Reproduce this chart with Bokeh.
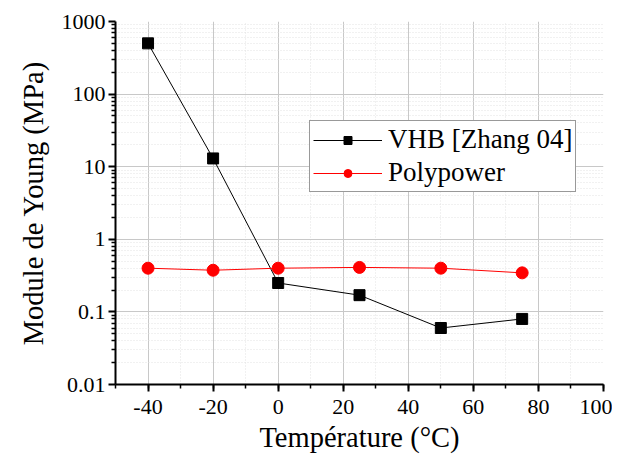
from bokeh.plotting import figure
from bokeh.models import (Range1d, FixedTicker, SingleIntervalTicker, CustomJSTickFormatter,
                          Legend, LegendItem)
from bokeh.embed import file_html
from bokeh.resources import INLINE

# ---- data ----
temps_vhb = [-40, -20, 0, 25, 50, 75]
vhb = [500, 13, 0.25, 0.17, 0.06, 0.08]
temps_poly = [-40, -20, 0, 25, 50, 75]
poly = [0.40, 0.375, 0.40, 0.41, 0.40, 0.345]
y_major = [0.01, 0.1, 1, 10, 100, 1000]
x_label = "Température (°C)"
y_label = "Module de Young (MPa)"
names = ["VHB [Zhang 04]", "Polypower"]

FONT = "Liberation Serif"

p = figure(width=612, height=455, output_backend="svg", toolbar_location=None,
           y_axis_type="log",
           x_range=Range1d(-50, 100), y_range=Range1d(0.01, 1000),
           min_border_left=115, min_border_right=9, min_border_top=21, min_border_bottom=70)
p.outline_line_color = None
p.background_fill_color = "white"
p.border_fill_color = "white"

# y ticks
y_minor = []
for d in y_major[:-1]:
    for k in range(2, 10):
        y_minor.append(d * k)
p.yaxis.ticker = FixedTicker(ticks=y_major, minor_ticks=y_minor)
p.yaxis.formatter = CustomJSTickFormatter(code="return Number(tick.toPrecision(3)).toString();")
p.xaxis.ticker = SingleIntervalTicker(interval=20, num_minor_ticks=2)
p.xaxis.formatter = CustomJSTickFormatter(code="return String(Math.round(tick));")

for ax in (p.xaxis, p.yaxis):
    ax.axis_line_color = "black"
    ax.axis_line_width = 2
    ax.major_tick_line_color = "black"
    ax.major_tick_line_width = 2
    ax.minor_tick_line_color = "black"
    ax.minor_tick_line_width = 1.5
    ax.major_tick_out = 7
    ax.major_tick_in = 0
    ax.minor_tick_out = 4
    ax.minor_tick_in = 0
    ax.major_label_text_font = FONT
    ax.major_label_text_font_size = "22px"
    ax.major_label_text_color = "black"
    ax.axis_label_text_font = FONT
    ax.axis_label_text_font_size = "28.5px"
    ax.axis_label_text_font_style = "normal"
    ax.axis_label_text_color = "black"

p.xaxis.axis_label = x_label
p.yaxis.axis_label = y_label
p.xaxis.major_label_standoff = 8
p.yaxis.major_label_standoff = 3
p.xaxis.axis_label_standoff = 5
p.yaxis.axis_label_standoff = 10

# grids
for g in (p.xgrid, p.ygrid):
    g.grid_line_color = "#c8c8c8"
    g.grid_line_width = 1
    g.minor_grid_line_color = "#e3e3e3"
    g.minor_grid_line_dash = "1 2"
    g.minor_grid_line_width = 1

l1 = p.line(temps_vhb, vhb, line_color="black", line_width=1)
m1 = p.scatter(temps_vhb, vhb, marker="square", size=11, fill_color="black", line_color="black")
l2 = p.line(temps_poly, poly, line_color="#ff0000", line_width=1)
m2 = p.scatter(temps_poly, poly, marker="circle", size=12, fill_color="#ff0000", line_color="#ff0000")

legend = Legend(items=[LegendItem(label=names[0], renderers=[l1, m1]),
                       LegendItem(label=names[1], renderers=[l2, m2])],
                location=(194, 192))
legend.label_text_font = FONT
legend.label_text_font_size = "27px"
legend.label_text_color = "black"
legend.glyph_width = 69
legend.glyph_height = 20
legend.label_standoff = 6
legend.label_height = 20
legend.spacing = 2
legend.padding = 3
legend.margin = 0
legend.border_line_color = "#333333"
legend.border_line_width = 1
legend.background_fill_color = "white"
legend.background_fill_alpha = 1
p.add_layout(legend, "center")

open("out.html", "w").write(file_html(p, INLINE))
